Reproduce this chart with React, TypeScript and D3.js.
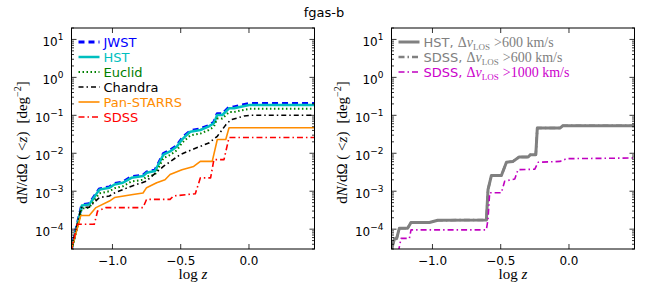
import * as d3 from "d3";

// ---- data (log z, dN/dOmega(<z) in deg^-2) ----
const jwstX = [-1.305, -1.224, -1.17, -1.096, -1.022, -0.985, -0.924, -0.861, -0.776, -0.75, -0.689, -0.664, -0.627, -0.578, -0.528, -0.491, -0.467, -0.43, -0.356, -0.294, -0.257, -0.233, -0.195, -0.146, -0.109, -0.059, 0.002, 0.48];
const jwstY = [2.6e-5, 4.4e-4, 4.7e-4, 1.15e-3, 1.3e-3, 1.6e-3, 1.75e-3, 2.4e-3, 2.65e-3, 3.2e-3, 3.6e-3, 5.3e-3, 9.8e-3, 1.2e-2, 1.6e-2, 2.45e-2, 3.0e-2, 3.9e-2, 4.4e-2, 5.4e-2, 6.6e-2, 0.11, 0.11, 0.165, 0.165, 0.185, 0.205, 0.205];

const hstX = [-1.305, -1.224, -1.17, -1.096, -1.022, -0.985, -0.924, -0.861, -0.776, -0.75, -0.689, -0.664, -0.627, -0.578, -0.528, -0.491, -0.467, -0.43, -0.356, -0.294, -0.257, -0.233, -0.195, -0.146, -0.109, -0.059, 0.002, 0.48];
const hstY = [2.5e-5, 4.2e-4, 4.5e-4, 1.1e-3, 1.24e-3, 1.5e-3, 1.67e-3, 2.25e-3, 2.5e-3, 3.05e-3, 3.4e-3, 5.0e-3, 9.2e-3, 1.12e-2, 1.5e-2, 2.3e-2, 2.8e-2, 3.7e-2, 4.1e-2, 5.1e-2, 6.2e-2, 0.102, 0.102, 0.153, 0.153, 0.169, 0.187, 0.187];

const euclidX = [-1.305, -1.224, -1.17, -1.096, -1.022, -0.985, -0.924, -0.861, -0.776, -0.75, -0.689, -0.664, -0.627, -0.578, -0.528, -0.491, -0.467, -0.43, -0.356, -0.294, -0.257, -0.233, -0.195, -0.146, -0.109, -0.059, 0.002, 0.48];
const euclidY = [2.2e-5, 3.5e-4, 3.7e-4, 8.8e-4, 1.0e-3, 1.2e-3, 1.35e-3, 1.8e-3, 2.0e-3, 2.45e-3, 2.7e-3, 4.0e-3, 7.4e-3, 9.0e-3, 1.2e-2, 1.85e-2, 2.25e-2, 2.95e-2, 3.3e-2, 4.1e-2, 5.0e-2, 0.082, 0.082, 0.122, 0.122, 0.135, 0.148, 0.148];

const chandraX = [-1.305, -1.23, -1.17, -1.096, -1.022, -0.985, -0.86, -0.75, -0.726, -0.627, -0.504, -0.405, -0.294, -0.232, -0.17, -0.133, -0.035, 0.015, 0.48];
const chandraY = [2.5e-5, 3.7e-4, 3.8e-4, 6.8e-4, 7.5e-4, 9.0e-4, 1.36e-3, 1.84e-3, 2.25e-3, 4.5e-3, 9.2e-3, 1.3e-2, 1.86e-2, 2.8e-2, 5.6e-2, 7.6e-2, 9.6e-2, 0.1, 0.1];

const panX = [-1.305, -1.232, -1.17, -1.121, -1.022, -0.985, -0.85, -0.776, -0.75, -0.676, -0.615, -0.578, -0.491, -0.405, -0.356, -0.269, -0.232, -0.17, -0.146, 0.48];
const panY = [2.5e-5, 2.3e-4, 2.3e-4, 3.7e-4, 5.5e-4, 6.8e-4, 8.2e-4, 9.0e-4, 1.24e-3, 1.67e-3, 2.0e-3, 2.75e-3, 3.7e-3, 4.5e-3, 6.1e-3, 6.1e-3, 2.3e-2, 2.3e-2, 4.7e-2, 4.7e-2];

const sdssX = [-1.305, -1.257, -1.133, -1.109, -1.047, -0.776, -0.75, -0.578, -0.553, -0.393, -0.356, -0.281, -0.257, -0.183, -0.146, 0.48];
const sdssY = [2.5e-5, 1.35e-4, 1.35e-4, 3.0e-4, 3.7e-4, 3.7e-4, 6.1e-4, 6.1e-4, 7.5e-4, 8.6e-4, 2.25e-3, 2.25e-3, 6.8e-3, 6.8e-3, 2.6e-2, 2.6e-2];

const hst600X = [-1.305, -1.279, -1.262, -1.243, -1.182, -1.157, -1.022, -0.961, -0.605, -0.593, -0.568, -0.495, -0.458, -0.41, -0.365, -0.299, -0.282, -0.243, -0.232, -0.066, -0.046, 0.48];
const hst600Y = [2.5e-5, 5.5e-5, 5.7e-5, 1.05e-4, 1.05e-4, 1.5e-4, 1.5e-4, 1.72e-4, 1.75e-4, 1.1e-3, 2.6e-3, 2.6e-3, 5.8e-3, 6.1e-3, 8.0e-3, 8.0e-3, 9.2e-3, 9.2e-3, 4.6e-2, 4.6e-2, 5.3e-2, 5.3e-2];

const sdss600X = [-1.305, -1.279, -1.262, -1.243, -1.182, -1.157, -1.022, -0.961, -0.605, -0.593, -0.568, -0.495, -0.458, -0.41, -0.365, -0.299, -0.282, -0.243, -0.232, -0.066, -0.046, 0.48];
const sdss600Y = [2.5e-5, 5.5e-5, 5.7e-5, 1.05e-4, 1.05e-4, 1.5e-4, 1.5e-4, 1.72e-4, 1.75e-4, 1.1e-3, 2.6e-3, 2.6e-3, 5.8e-3, 6.1e-3, 8.0e-3, 8.0e-3, 9.2e-3, 9.2e-3, 4.6e-2, 4.6e-2, 5.3e-2, 5.3e-2];

const sdss1000X = [-1.25, -1.23, -1.169, -1.157, -0.605, -0.593, -0.581, -0.495, -0.471, -0.397, -0.373, -0.25, -0.226, -0.066, -0.017, 0.48];
const sdss1000Y = [2.5e-5, 5.7e-5, 5.7e-5, 9.6e-5, 9.6e-5, 1.83e-4, 9.1e-4, 9.1e-4, 1.84e-3, 2.1e-3, 3.7e-3, 3.8e-3, 5.8e-3, 6.1e-3, 7.2e-3, 7.5e-3];

const yMajor = [1e-4, 1e-3, 1e-2, 1e-1, 1, 10];
const yMajorExp = ["−4", "−3", "−2", "−1", "0", "1"];
const xMajor = [-1.0, -0.5, 0.0];
const xMajorLabels = ["−1.0", "−0.5", "0.0"];

type Series = { x: number[]; y: number[]; color: string; width: number; dash?: string; label: string; textColor?: string; math?: string };

const leftSeries: Series[] = [
  { x: jwstX, y: jwstY, color: "#0000ff", width: 3, dash: "6,4", label: "JWST" },
  { x: hstX, y: hstY, color: "#00bfbf", width: 2.5, label: "HST" },
  { x: euclidX, y: euclidY, color: "#008000", width: 2, dash: "1.5,2.5", label: "Euclid" },
  { x: chandraX, y: chandraY, color: "#000000", width: 1.6, dash: "5,3,1.5,3", label: "Chandra" },
  { x: panX, y: panY, color: "#ff8c00", width: 1.6, label: "Pan-STARRS" },
  { x: sdssX, y: sdssY, color: "#ff0000", width: 1.6, dash: "6,3,1.5,3", label: "SDSS" },
];

const rightSeries: Series[] = [
  { x: hst600X, y: hst600Y, color: "#808080", width: 3, label: "HST, ", math: "600" },
  { x: sdss600X, y: sdss600Y, color: "#808080", width: 2.5, dash: "6,3,1.5,3", label: "SDSS, ", math: "600" },
  { x: sdss1000X, y: sdss1000Y, color: "#c000c0", width: 1.6, dash: "6,3,1.5,3", label: "SDSS, ", math: "1000", textColor: "#cc00cc" },
];

const TOP = 28;
const BOTTOM = 249;
const PW = 243;
const SANS = "DejaVu Sans, sans-serif";
const SERIF = "Liberation Serif, DejaVu Serif, serif";

function Panel({ left, series, id }: { left: number; series: Series[]; id: string }) {
  const x = d3.scaleLinear().domain([-1.3, 0.48]).range([left, left + PW]);
  const y = d3.scaleLog().domain([3e-5, 20]).range([BOTTOM, TOP]);
  const minor = y.ticks().filter((t) => Math.abs(Math.log10(t) - Math.round(Math.log10(t))) > 1e-6);
  const path = (s: Series) =>
    d3
      .line<[number, number]>()
      .x((d) => x(d[0]))
      .y((d) => y(d[1]))(s.x.map((v, i) => [v, s.y[i]] as [number, number])) || "";
  const drawOrder = id === "r" ? [1, 0, 2] : [0, 1, 2, 3, 4, 5];
  const cx = left + PW / 2;
  return (
    <g>
      <defs>
        <clipPath id={"clip" + id}>
          <rect x={left} y={TOP} width={PW} height={BOTTOM - TOP} />
        </clipPath>
      </defs>
      <g clipPath={`url(#clip${id})`}>
        {drawOrder.map((k) => {
          const s = series[k];
          return (
            <path
              key={k}
              d={path(s)}
              fill="none"
              stroke={s.color}
              strokeWidth={s.width}
              strokeDasharray={s.dash}
              strokeLinejoin="round"
            />
          );
        })}
      </g>
      {/* ticks */}
      <g stroke="#000" strokeWidth={0.8}>
        {yMajor.map((t) => (
          <g key={t}>
            <line x1={left} x2={left + 5} y1={y(t)} y2={y(t)} />
            <line x1={left + PW} x2={left + PW - 5} y1={y(t)} y2={y(t)} />
          </g>
        ))}
        {minor.map((t) => (
          <g key={t}>
            <line x1={left} x2={left + 2.5} y1={y(t)} y2={y(t)} />
            <line x1={left + PW} x2={left + PW - 2.5} y1={y(t)} y2={y(t)} />
          </g>
        ))}
        {xMajor.map((t) => (
          <g key={t}>
            <line x1={x(t)} x2={x(t)} y1={BOTTOM} y2={BOTTOM - 5} />
            <line x1={x(t)} x2={x(t)} y1={TOP} y2={TOP + 5} />
          </g>
        ))}
      </g>
      <rect x={left} y={TOP} width={PW} height={BOTTOM - TOP} fill="none" stroke="#000" strokeWidth={1} />
      {/* tick labels */}
      {yMajor.map((t, i) => (
        <text key={t} x={left - 8} y={y(t) + 7} textAnchor="end" fontFamily={SANS} fontSize={12} fill="#000">
          10
          <tspan dy={-6} fontSize={9}>
            {yMajorExp[i]}
          </tspan>
        </text>
      ))}
      {xMajor.map((t, i) => (
        <text key={t} x={x(t)} y={265} textAnchor="middle" fontFamily={SANS} fontSize={12} fill="#000">
          {xMajorLabels[i]}
        </text>
      ))}
      <text x={cx} y={279} textAnchor="middle" fontFamily={SERIF} fontSize={15} fill="#000">
        log <tspan fontStyle="italic">z</tspan>
      </text>
      <text
        transform={`translate(${left - 45},${(TOP + BOTTOM) / 2 + 4}) rotate(-90)`}
        textAnchor="middle"
        fontFamily={SERIF}
        fontSize={15}
        fill="#000"
      >
        d<tspan fontStyle="italic">N</tspan>/dΩ ( &lt;<tspan fontStyle="italic">z</tspan>)
        <tspan dx={8}>[deg</tspan>
        <tspan dy={-6} fontSize={10}>−2</tspan>
        <tspan dy={6}>]</tspan>
      </text>
      {/* legend */}
      {series.map((s, i) => {
        const ly = 42 + 15 * i;
        const tc = s.textColor || s.color;
        return (
          <g key={i}>
            <line
              x1={left + 7}
              x2={left + 28}
              y1={ly}
              y2={ly}
              stroke={s.color}
              strokeWidth={s.width}
              strokeDasharray={s.dash}
            />
            {s.math ? (
              <text x={left + 32} y={ly + 5} fontFamily={SANS} fontSize={13} fill={tc}>
                {s.label}
                <tspan fontFamily={SERIF} fontSize={14}>
                  Δ<tspan fontStyle="italic">v</tspan>
                </tspan>
                <tspan fontFamily={SERIF} fontSize={9} dy={3}>
                  LOS
                </tspan>
                <tspan fontFamily={SERIF} fontSize={14} dy={-3} dx={4}>
                  &gt;{s.math} km/s
                </tspan>
              </text>
            ) : (
              <text x={left + 32} y={ly + 5} fontFamily={SANS} fontSize={13} fill={tc}>
                {s.label}
              </text>
            )}
          </g>
        );
      })}
    </g>
  );
}

export default function App() {
  return (
    <svg width={648} height={291} style={{ display: "block", position: "absolute", left: 0, top: 0, background: "#fff" }}>
      <rect width={648} height={291} fill="#fff" />
      <text x={324} y={17} textAnchor="middle" fontFamily={SANS} fontSize={13} fill="#000">
        fgas-b
      </text>
      <Panel left={71.5} series={leftSeries} id="l" />
      <Panel left={391.5} series={rightSeries} id="r" />
    </svg>
  );
}
